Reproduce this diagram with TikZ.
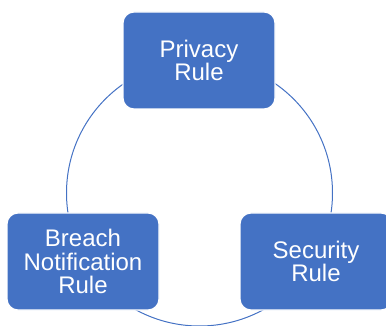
\documentclass[tikz,border=0pt]{standalone}
\usepackage{fontspec}
\setmainfont{Liberation Sans}
\definecolor{boxblue}{HTML}{4472C4}
\tikzset{
  rulebox/.style={draw=white, line width=1.2pt, fill=boxblue, rounded corners=11pt,
    minimum width=152pt, minimum height=97pt, inner sep=0pt, text=white, align=center,
    font=\fontsize{24pt}{23.5pt}\selectfont},
  ring/.style={draw=boxblue, line width=1pt}
}
\begin{document}
\begin{tikzpicture}[x=1pt,y=-1pt]
\useasboundingbox (0,0) rectangle (386,326);
\coordinate (c) at (199.5,193);
\draw[ring] (c) circle[radius=133pt];
\node[rulebox] (privacy) at (199,60.5) {Privacy\\Rule};
\node[rulebox] (breach) at (83,261.5) {Breach\\Notification\\Rule};
\node[rulebox] (security) at (316,261.5) {Security\\Rule};
\end{tikzpicture}
\end{document}
